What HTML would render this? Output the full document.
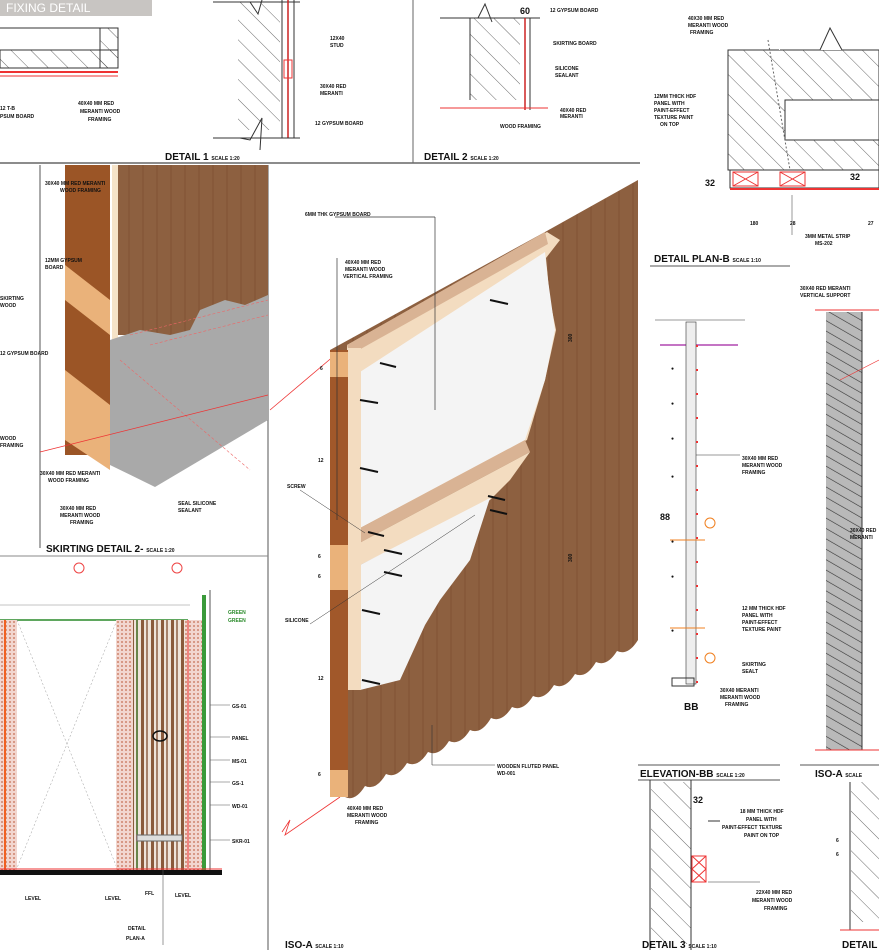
<!DOCTYPE html>
<html><head><meta charset="utf-8"><style>
html,body{margin:0;padding:0;background:#fff}
svg{display:block}
text{font-family:"Liberation Sans",sans-serif;font-weight:bold;fill:#111}
.t{font-size:5px}
.h{font-size:10px}
</style></head><body>
<svg width="879" height="950" viewBox="0 0 879 950" xmlns="http://www.w3.org/2000/svg">
<defs>
<pattern id="hat" width="14" height="14" patternUnits="userSpaceOnUse" patternTransform="rotate(-45)">
<line x1="0" y1="0" x2="0" y2="14" stroke="#444" stroke-width="0.8"/></pattern>
<pattern id="hat2" width="9" height="9" patternUnits="userSpaceOnUse" patternTransform="rotate(-60)">
<rect width="9" height="9" fill="#b9b9b9"/><line x1="0" y1="0" x2="0" y2="9" stroke="#333" stroke-width="1.2"/></pattern>
<pattern id="grain" width="14" height="10" patternUnits="userSpaceOnUse">
<rect width="14" height="10" fill="#8d6040"/><line x1="3" y1="0" x2="3" y2="10" stroke="#87593a" stroke-width="2"/></pattern>
<pattern id="dots" width="4" height="4" patternUnits="userSpaceOnUse">
<rect width="4" height="4" fill="#f2d6cf"/><circle cx="2" cy="2" r="0.9" fill="#c46b50"/></pattern>
<pattern id="strp" width="10" height="10" patternUnits="userSpaceOnUse">
<rect width="10" height="10" fill="#efe3da"/><rect x="1" width="3" height="10" fill="#8a5a3c"/><rect x="6" width="2" height="10" fill="#a6806a"/></pattern>
</defs>

<!-- top banner -->
<rect x="0" y="0" width="152" height="16" fill="#c8c5c2"/>
<text x="6" y="12" style="font-size:12px;fill:#fff;font-weight:normal">FIXING DETAIL</text>

<!-- top-left detail -->
<path d="M0,28 L100,28 L100,50 L0,50" fill="none" stroke="#333"/>
<rect x="0" y="50" width="118" height="18" fill="url(#hat)" stroke="#333"/>
<rect x="100" y="28" width="18" height="40" fill="url(#hat)" stroke="#333"/>
<line x1="0" y1="72" x2="118" y2="72" stroke="#e33" stroke-width="2"/>
<line x1="0" y1="76" x2="118" y2="76" stroke="#e33" stroke-width="1"/>
<text class="t" x="0" y="110">12 T-B</text><text class="t" x="0" y="118">PSUM BOARD</text>
<text class="t" x="78" y="105">40X40 MM RED</text><text class="t" x="80" y="113">MERANTI WOOD</text><text class="t" x="88" y="121">FRAMING</text>

<!-- detail 1 -->
<line x1="213" y1="2" x2="300" y2="2" stroke="#333"/>
<rect x="238" y="2" width="42" height="128" fill="url(#hat)"/>
<path d="M238,2 L250,2 L258,14 L262,0" fill="none" stroke="#333"/>
<line x1="282" y1="0" x2="282" y2="138" stroke="#333"/>
<line x1="288" y1="0" x2="288" y2="138" stroke="#c22" stroke-width="1.5"/>
<line x1="294" y1="0" x2="294" y2="138" stroke="#333"/>
<rect x="284" y="60" width="8" height="18" fill="none" stroke="#e33"/>
<line x1="213" y1="138" x2="300" y2="138" stroke="#333"/>
<path d="M240,138 L250,140 L262,118 L260,150" fill="none" stroke="#333"/>
<text class="t" x="330" y="40">12X40</text><text class="t" x="330" y="47">STUD</text>
<text class="t" x="320" y="88">30X40 RED</text><text class="t" x="320" y="95">MERANTI</text>
<text class="t" x="315" y="125">12 GYPSUM BOARD</text>
<text class="h" x="165" y="160">DETAIL 1 <tspan style="font-size:5px">SCALE 1:20</tspan></text>

<!-- divider lines -->
<line x1="0" y1="163" x2="640" y2="163" stroke="#666" stroke-width="1.5"/>
<line x1="413" y1="0" x2="413" y2="163" stroke="#666"/>

<!-- detail 2 -->
<line x1="440" y1="18" x2="540" y2="18" stroke="#333"/>
<rect x="470" y="18" width="50" height="82" fill="url(#hat)"/>
<path d="M470,18 L478,18 L485,4 L492,22" fill="none" stroke="#333"/>
<line x1="470" y1="18" x2="470" y2="100" stroke="#333"/>
<line x1="525" y1="18" x2="525" y2="110" stroke="#c22" stroke-width="1.5"/>
<line x1="530" y1="18" x2="530" y2="110" stroke="#333"/>
<line x1="440" y1="108" x2="548" y2="108" stroke="#e33"/>
<text x="520" y="14" style="font-size:9px">60</text>
<text class="t" x="550" y="12">12 GYPSUM BOARD</text>
<text class="t" x="553" y="45">SKIRTING BOARD</text>
<text class="t" x="555" y="70">SILICONE</text><text class="t" x="555" y="77">SEALANT</text>
<text class="t" x="560" y="112">40X40 RED</text><text class="t" x="560" y="118">MERANTI</text>
<text class="t" x="500" y="128">WOOD FRAMING</text>
<text class="h" x="424" y="160">DETAIL 2 <tspan style="font-size:5px">SCALE 1:20</tspan></text>

<!-- left vertical frames -->
<line x1="40" y1="165" x2="40" y2="548" stroke="#555"/>
<line x1="268" y1="165" x2="268" y2="950" stroke="#555"/>

<!-- skirting detail 2 iso -->
<rect x="65" y="165" width="45" height="290" fill="#9b5526"/>
<polygon points="65,265 110,300 110,335 65,300" fill="#eab27a"/>
<polygon points="65,370 110,405 110,470 65,440" fill="#eab27a"/>
<rect x="112" y="165" width="6" height="190" fill="#f5e3c8"/>
<rect x="118" y="165" width="150" height="170" fill="url(#grain)"/>
<polygon points="110,340 140,330 170,335 190,330 200,310 225,300 245,305 268,295 268,420 155,487 110,465" fill="#a9a9a9"/>
<path d="M130,335 L268,300 M150,345 L268,315 M120,360 L250,470" stroke="#e66" stroke-width="0.6" fill="none" stroke-dasharray="3,2"/>
<line x1="40" y1="452" x2="268" y2="395" stroke="#e33" stroke-width="0.8"/>
<text class="t" x="45" y="185">30X40 MM RED MERANTI</text><text class="t" x="60" y="192">WOOD FRAMING</text>
<text class="t" x="45" y="262">12MM GYPSUM</text><text class="t" x="45" y="269">BOARD</text>
<text class="t" x="0" y="300">SKIRTING</text><text class="t" x="0" y="307">WOOD</text>
<text class="t" x="0" y="355">12 GYPSUM BOARD</text>
<text class="t" x="0" y="440">WOOD</text><text class="t" x="0" y="447">FRAMING</text>
<text class="t" x="40" y="475">30X40 MM RED MERANTI</text><text class="t" x="48" y="482">WOOD FRAMING</text>
<text class="t" x="60" y="510">30X40 MM RED</text><text class="t" x="60" y="517">MERANTI WOOD</text><text class="t" x="70" y="524">FRAMING</text>
<text class="t" x="178" y="505">SEAL SILICONE</text><text class="t" x="178" y="512">SEALANT</text>
<text class="h" x="46" y="552">SKIRTING DETAIL 2- <tspan style="font-size:5px">SCALE 1:20</tspan></text>
<line x1="0" y1="556" x2="268" y2="556" stroke="#888"/>

<!-- main ISO-A -->
<line x1="270" y1="410" x2="335" y2="355" stroke="#e33" stroke-width="0.8"/>
<path d="M282,832 L290,820 L285,835 L340,797" stroke="#e33" stroke-width="0.8" fill="none"/>
<path d="M330,350 L545,232 L638,180 L638,640 Q628,656 617,651 Q607,667 596,662 Q586,679 575,674 Q565,690 554,685 Q544,701 533,696 Q523,712 512,707 Q502,723 491,718 Q481,735 470,730 Q460,746 449,741 Q439,757 428,752 Q418,768 407,763 Q397,779 386,774 Q376,791 365,786 Q355,802 345,797 L330,797 Z" fill="url(#grain)"/>
<polygon points="347,345 547,232 560,240 546,258 550,300 556,330 545,380 527,440 347,535" fill="#f3dcc0"/>
<polygon points="360,372 545,252 548,280 555,330 545,380 525,440 360,528" fill="#f4f4f4"/>
<polygon points="347,345 545,232 548,244 350,355" fill="#d9b394"/>
<polygon points="347,535 525,440 530,452 350,548" fill="#d9b394"/>
<polygon points="350,548 530,452 510,480 490,500 360,565" fill="#f3dcc0"/>
<polygon points="360,565 490,498 470,560 440,600 425,625 400,680 360,690" fill="#f4f4f4"/>
<rect x="347" y="348" width="14" height="342" fill="#f3dcc0"/>
<rect x="330" y="350" width="18" height="447" fill="#a1582a"/>
<rect x="330" y="352" width="18" height="25" fill="#eab27a"/>
<rect x="330" y="545" width="18" height="45" fill="#eab27a"/>
<rect x="330" y="770" width="18" height="27" fill="#eab27a"/>
<!-- screws -->
<g stroke="#111" stroke-width="2">
<line x1="380" y1="363" x2="396" y2="367"/><line x1="360" y1="400" x2="378" y2="403"/>
<line x1="360" y1="468" x2="378" y2="472"/><line x1="368" y1="532" x2="384" y2="536"/>
<line x1="384" y1="550" x2="402" y2="554"/><line x1="384" y1="572" x2="402" y2="576"/>
<line x1="362" y1="610" x2="380" y2="614"/><line x1="362" y1="680" x2="380" y2="684"/>
<line x1="490" y1="300" x2="508" y2="304"/><line x1="488" y1="496" x2="505" y2="500"/>
<line x1="490" y1="510" x2="507" y2="514"/>
</g>
<line x1="335" y1="217" x2="435" y2="217" stroke="#333" stroke-width="0.7"/>
<line x1="435" y1="217" x2="435" y2="410" stroke="#333" stroke-width="0.7"/>
<text class="t" x="305" y="216">6MM THK GYPSUM BOARD</text>
<line x1="337" y1="258" x2="337" y2="520" stroke="#333" stroke-width="0.7"/>
<text class="t" x="345" y="264">40X40 MM RED</text><text class="t" x="345" y="271">MERANTI WOOD</text><text class="t" x="343" y="278">VERTICAL FRAMING</text>
<text class="t" x="287" y="488">SCREW</text><line x1="300" y1="490" x2="365" y2="533" stroke="#333" stroke-width="0.5"/>
<text class="t" x="285" y="622">SILICONE</text><line x1="310" y1="624" x2="475" y2="515" stroke="#333" stroke-width="0.5"/>
<text class="t" x="320" y="370">6</text><text class="t" x="318" y="462">12</text><text class="t" x="318" y="558">6</text><text class="t" x="318" y="578">6</text><text class="t" x="318" y="680">12</text><text class="t" x="318" y="776">6</text>
<text class="t" x="570" y="340" transform="rotate(-90 572 340)">300</text>
<text class="t" x="570" y="560" transform="rotate(-90 572 560)">300</text>
<line x1="432" y1="725" x2="432" y2="765" stroke="#333" stroke-width="0.6"/><line x1="432" y1="765" x2="495" y2="765" stroke="#333" stroke-width="0.6"/>
<text class="t" x="497" y="768">WOODEN FLUTED PANEL</text><text class="t" x="497" y="775">WD-001</text>
<text class="t" x="347" y="810">40X40 MM RED</text><text class="t" x="347" y="817">MERANTI WOOD</text><text class="t" x="355" y="824">FRAMING</text>
<text class="h" x="285" y="948">ISO-A <tspan style="font-size:5px">SCALE 1:10</tspan></text>

<!-- bottom-left elevation -->
<circle cx="79" cy="568" r="5" fill="none" stroke="#e44"/><circle cx="177" cy="568" r="5" fill="none" stroke="#e44"/>
<line x1="0" y1="605" x2="190" y2="605" stroke="#888" stroke-width="0.5"/>
<line x1="0" y1="620" x2="188" y2="620" stroke="#2a8a2a" stroke-width="1.5"/>
<rect x="0" y="620" width="17" height="250" fill="url(#dots)"/>
<line x1="5" y1="620" x2="5" y2="870" stroke="#f06020" stroke-width="2"/>
<line x1="17" y1="620" x2="117" y2="868" stroke="#999" stroke-width="0.5" stroke-dasharray="2,2"/>
<line x1="117" y1="620" x2="17" y2="868" stroke="#999" stroke-width="0.5" stroke-dasharray="2,2"/>
<rect x="116" y="620" width="17" height="250" fill="url(#dots)"/>
<rect x="133" y="620" width="52" height="250" fill="url(#strp)"/>
<rect x="185" y="620" width="17" height="250" fill="url(#dots)"/>
<line x1="188" y1="620" x2="188" y2="868" stroke="#e33"/>
<rect x="202" y="595" width="4" height="275" fill="#3a9a3a"/>
<line x1="210" y1="590" x2="210" y2="870" stroke="#555"/>
<line x1="137" y1="620" x2="137" y2="868" stroke="#2a8a2a"/>
<ellipse cx="160" cy="736" rx="7" ry="5" fill="none" stroke="#111" stroke-width="1.5"/>
<rect x="137" y="835" width="45" height="6" fill="#ddd" stroke="#666"/>
<rect x="0" y="870" width="222" height="5" fill="#111"/><line x1="0" y1="869" x2="222" y2="869" stroke="#e33"/>
<g stroke="#555" stroke-width="0.6"><line x1="210" y1="705" x2="230" y2="705"/><line x1="210" y1="737" x2="230" y2="737"/><line x1="210" y1="760" x2="230" y2="760"/><line x1="210" y1="782" x2="230" y2="782"/><line x1="210" y1="805" x2="230" y2="805"/><line x1="210" y1="840" x2="230" y2="840"/><line x1="163" y1="870" x2="163" y2="945"/></g>
<text class="t" x="232" y="708">GS-01</text><text class="t" x="232" y="740">PANEL</text><text class="t" x="232" y="763">MS-01</text><text class="t" x="232" y="785">GS-1</text><text class="t" x="232" y="808">WD-01</text><text class="t" x="232" y="843">SKR-01</text>
<text class="t" x="228" y="614" style="fill:#2a8a2a">GREEN</text><text class="t" x="228" y="622" style="fill:#2a8a2a">GREEN</text>
<text class="t" x="25" y="900">LEVEL</text><text class="t" x="105" y="900">LEVEL</text><text class="t" x="145" y="895">FFL</text><text class="t" x="175" y="897">LEVEL</text>
<text class="t" x="128" y="930">DETAIL</text><text class="t" x="126" y="940">PLAN-A</text>

<!-- detail plan-B top right -->
<text class="t" x="688" y="20">40X30 MM RED</text><text class="t" x="688" y="27">MERANTI WOOD</text><text class="t" x="690" y="34">FRAMING</text>
<rect x="728" y="50" width="151" height="120" fill="url(#hat)" stroke="#333"/>
<rect x="785" y="100" width="94" height="40" fill="#fff" stroke="#333"/>
<rect x="779" y="28" width="100" height="22" fill="#fff"/>
<path d="M780,50 L820,50 L830,28 L842,50 L879,50" fill="none" stroke="#333"/>
<line x1="768" y1="40" x2="790" y2="170" stroke="#666" stroke-dasharray="2,2"/>
<text class="t" x="654" y="98">12MM THICK HDF</text><text class="t" x="654" y="105">PANEL WITH</text><text class="t" x="654" y="112">PAINT-EFFECT</text><text class="t" x="654" y="119">TEXTURE PAINT</text><text class="t" x="660" y="126">ON TOP</text>
<rect x="730" y="170" width="149" height="18" fill="#fff" stroke="#333"/>
<g stroke="#e33" fill="none"><rect x="733" y="172" width="25" height="14"/><line x1="733" y1="172" x2="758" y2="186"/><line x1="758" y1="172" x2="733" y2="186"/>
<rect x="780" y="172" width="25" height="14"/><line x1="780" y1="172" x2="805" y2="186"/><line x1="805" y1="172" x2="780" y2="186"/></g>
<line x1="730" y1="189" x2="879" y2="189" stroke="#e33" stroke-width="2"/>
<text x="705" y="186" style="font-size:9px">32</text><text x="850" y="180" style="font-size:9px">32</text>
<text class="t" x="750" y="225">180</text><text class="t" x="790" y="225">28</text><text class="t" x="868" y="225">27</text>
<line x1="792" y1="195" x2="792" y2="235" stroke="#333" stroke-width="0.5"/>
<text class="t" x="805" y="238">3MM METAL STRIP</text><text class="t" x="815" y="245">MS-202</text>
<text class="h" x="654" y="262">DETAIL PLAN-B <tspan style="font-size:5px">SCALE 1:10</tspan></text>
<line x1="650" y1="266" x2="790" y2="266" stroke="#555"/>

<!-- elevation BB -->
<line x1="655" y1="320" x2="745" y2="320" stroke="#333" stroke-width="0.6"/>
<line x1="660" y1="345" x2="738" y2="345" stroke="#a020a0" stroke-width="1.2"/>
<rect x="686" y="322" width="10" height="362" fill="#eee" stroke="#333" stroke-width="0.6"/>
<line x1="697" y1="345" x2="697" y2="685" stroke="#e33" stroke-dasharray="2,22" stroke-width="2"/>
<text class="t" x="671" y="370">●</text><text class="t" x="671" y="405">●</text><text class="t" x="671" y="440">●</text><text class="t" x="671" y="478">●</text><text class="t" x="671" y="543">●</text><text class="t" x="671" y="578">●</text><text class="t" x="671" y="632">●</text>
<text x="660" y="520" style="font-size:9px">88</text>
<circle cx="710" cy="523" r="5" fill="none" stroke="#f08020"/><circle cx="710" cy="658" r="5" fill="none" stroke="#f08020"/>
<line x1="670" y1="540" x2="705" y2="540" stroke="#f08020"/><line x1="670" y1="628" x2="705" y2="628" stroke="#f08020"/>
<line x1="696" y1="455" x2="740" y2="455" stroke="#333" stroke-width="0.5"/>
<text class="t" x="742" y="460">30X40 MM RED</text><text class="t" x="742" y="467">MERANTI WOOD</text><text class="t" x="742" y="474">FRAMING</text>
<text class="t" x="742" y="610">12 MM THICK HDF</text><text class="t" x="742" y="617">PANEL WITH</text><text class="t" x="742" y="624">PAINT-EFFECT</text><text class="t" x="742" y="631">TEXTURE PAINT</text>
<text class="t" x="742" y="666">SKIRTING</text><text class="t" x="742" y="673">SEALT</text>
<text class="t" x="720" y="692">30X40 MERANTI</text><text class="t" x="720" y="699">MERANTI WOOD</text><text class="t" x="725" y="706">FRAMING</text>
<rect x="672" y="678" width="22" height="8" fill="none" stroke="#333"/>
<text x="684" y="710" style="font-size:10px">BB</text>
<line x1="638" y1="765" x2="780" y2="765" stroke="#555"/>
<text class="h" x="640" y="777">ELEVATION-BB <tspan style="font-size:5px">SCALE 1:20</tspan></text>
<line x1="638" y1="780" x2="780" y2="780" stroke="#555"/>

<!-- ISO-A hatch column right -->
<text class="t" x="800" y="290">30X40 RED MERANTI</text><text class="t" x="800" y="297">VERTICAL SUPPORT</text>
<line x1="815" y1="310" x2="879" y2="310" stroke="#e33"/>
<rect x="826" y="312" width="36" height="438" fill="url(#hat2)"/>
<line x1="862" y1="312" x2="862" y2="750" stroke="#333"/>
<line x1="840" y1="380" x2="879" y2="360" stroke="#e33" stroke-width="0.6"/>
<line x1="815" y1="750" x2="879" y2="750" stroke="#e33"/>
<text class="t" x="850" y="532">30X40 RED</text><text class="t" x="850" y="539">MERANTI</text>
<line x1="800" y1="765" x2="879" y2="765" stroke="#555"/>
<text class="h" x="815" y="777">ISO-A <tspan style="font-size:5px">SCALE</tspan></text>

<!-- detail 3 -->
<line x1="650" y1="780" x2="650" y2="950" stroke="#333"/>
<rect x="651" y="782" width="40" height="162" fill="url(#hat)"/>
<line x1="691" y1="780" x2="691" y2="950" stroke="#333"/>
<rect x="692" y="856" width="14" height="26" fill="none" stroke="#e33"/>
<line x1="692" y1="856" x2="706" y2="869" stroke="#e33"/><line x1="706" y1="856" x2="692" y2="869" stroke="#e33"/>
<line x1="692" y1="869" x2="706" y2="882" stroke="#e33"/><line x1="706" y1="869" x2="692" y2="882" stroke="#e33"/>
<text x="693" y="803" style="font-size:9px">32</text>
<line x1="708" y1="821" x2="720" y2="821" stroke="#333"/>
<line x1="708" y1="882" x2="760" y2="882" stroke="#333" stroke-width="0.6"/>
<text class="t" x="740" y="813">18 MM THICK HDF</text><text class="t" x="746" y="821">PANEL WITH</text><text class="t" x="722" y="829">PAINT-EFFECT TEXTURE</text><text class="t" x="744" y="837">PAINT ON TOP</text>
<text class="t" x="836" y="842">6</text><text class="t" x="836" y="856">6</text>
<text class="t" x="756" y="894">22X40 MM RED</text><text class="t" x="752" y="902">MERANTI WOOD</text><text class="t" x="764" y="910">FRAMING</text>
<line x1="850" y1="782" x2="850" y2="930" stroke="#333"/>
<rect x="851" y="782" width="28" height="140" fill="url(#hat)"/>
<line x1="840" y1="930" x2="879" y2="930" stroke="#e33"/>
<text class="h" x="642" y="948">DETAIL 3 <tspan style="font-size:5px">SCALE 1:10</tspan></text>
<text class="h" x="842" y="948">DETAIL</text>
</svg>
</body></html>
